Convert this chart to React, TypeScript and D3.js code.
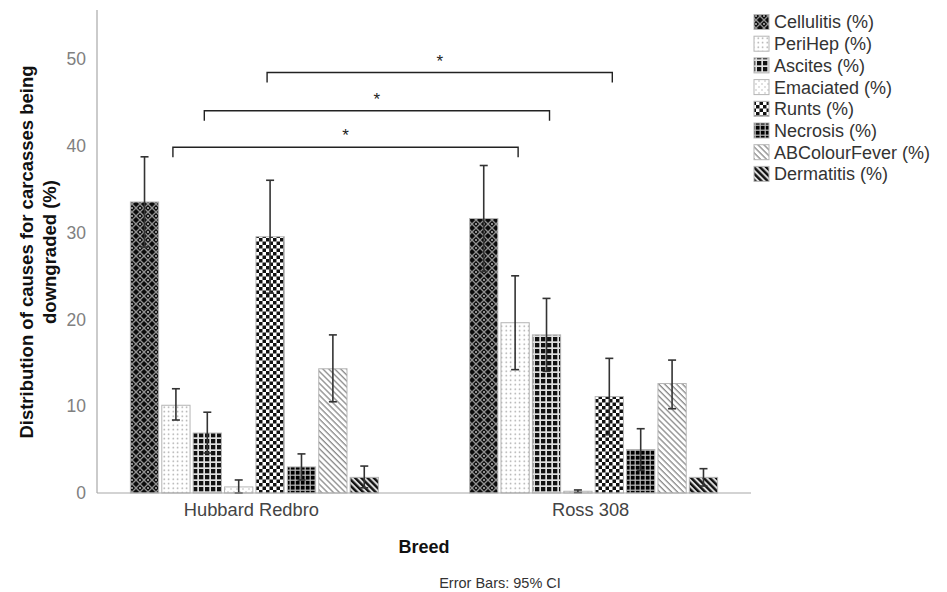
import React from 'react';
import * as d3 from 'd3';

// categories and values (mean % with 95% CI)
const breeds = ['Hubbard Redbro', 'Ross 308'];
const causes = [
  'Cellulitis (%)',
  'PeriHep (%)',
  'Ascites (%)',
  'Emaciated (%)',
  'Runts (%)',
  'Necrosis (%)',
  'ABColourFever (%)',
  'Dermatitis (%)',
];
const hubbardMeans = [33.5, 10.1, 6.9, 0.7, 29.5, 3.0, 14.3, 1.8];
const hubbardLower = [28.3, 8.4, 4.6, 0.0, 23.0, 1.5, 10.5, 0.6];
const hubbardUpper = [38.7, 12.0, 9.3, 1.5, 36.0, 4.5, 18.2, 3.1];
const rossMeans = [31.6, 19.6, 18.2, 0.2, 11.1, 5.0, 12.6, 1.8];
const rossLower = [25.5, 14.2, 14.0, 0.05, 6.7, 2.6, 9.7, 0.8];
const rossUpper = [37.7, 25.0, 22.4, 0.35, 15.5, 7.4, 15.3, 2.8];
const yTicks = [0, 10, 20, 30, 40, 50];
// significance brackets: same cause compared across breeds
const sigCauses = ['PeriHep (%)', 'Ascites (%)', 'Runts (%)'];
const sigLevels = [39.8, 44.0, 48.4];

const patternIds = ['pCell', 'pPeri', 'pAsc', 'pEma', 'pRunt', 'pNec', 'pAbc', 'pDerm'];

const FONT = '"Liberation Sans", Arial, sans-serif';

const App = () => {
  const width = 947;
  const height = 592;
  const axisLeft = 97;
  const axisRight = 751;

  const y = d3.scaleLinear().domain([0, 55.6]).range([493, 10]);
  const x0 = d3.scalePoint().domain(breeds).range([axisLeft, axisRight]).padding(0.464);
  const x1 = d3.scaleBand().domain(causes).range([-124, 124]).paddingInner(0.1);

  const rows = [
    { breed: breeds[0], means: hubbardMeans, lo: hubbardLower, hi: hubbardUpper },
    { breed: breeds[1], means: rossMeans, lo: rossLower, hi: rossUpper },
  ];

  const barCenter = (breed, cause) => x0(breed) + x1(cause) + x1.bandwidth() / 2;

  return (
    <svg width={width} height={height} style={{ display: 'block', position: 'absolute', left: 0, top: 0 }}>
      <defs>
        <pattern id="pCell" width="8" height="8" patternUnits="userSpaceOnUse">
          <rect width="8" height="8" fill="#0c0c0c" />
          <path d="M0,0 L8,8 M8,0 L0,8" stroke="#909090" strokeWidth="1.3" />
          <circle cx="4" cy="0" r="1" fill="#bbb" />
          <circle cx="4" cy="8" r="1" fill="#bbb" />
        </pattern>
        <pattern id="pPeri" width="4.5" height="4.5" patternUnits="userSpaceOnUse">
          <rect width="4.5" height="4.5" fill="#fff" />
          <circle cx="2.2" cy="2.2" r="0.75" fill="#999" />
        </pattern>
        <pattern id="pAsc" width="6" height="6" patternUnits="userSpaceOnUse">
          <rect width="6" height="6" fill="#e0e0e0" />
          <rect x="1" y="1" width="4.3" height="4.3" fill="#111" />
        </pattern>
        <pattern id="pEma" width="6" height="6" patternUnits="userSpaceOnUse">
          <rect width="6" height="6" fill="#fff" />
          <circle cx="0" cy="0" r="0.7" fill="#aaa" />
          <circle cx="3" cy="3" r="0.7" fill="#aaa" />
          <circle cx="6" cy="6" r="0.7" fill="#aaa" />
          <circle cx="6" cy="0" r="0.7" fill="#aaa" />
          <circle cx="0" cy="6" r="0.7" fill="#aaa" />
        </pattern>
        <pattern id="pRunt" width="7" height="7" patternUnits="userSpaceOnUse">
          <rect width="7" height="7" fill="#fff" />
          <rect x="0" y="0" width="3.5" height="3.5" fill="#111" />
          <rect x="3.5" y="3.5" width="3.5" height="3.5" fill="#111" />
        </pattern>
        <pattern id="pNec" width="5" height="5" patternUnits="userSpaceOnUse">
          <rect width="5" height="5" fill="#bbb" />
          <rect x="0.8" y="0.8" width="3.8" height="3.8" fill="#000" />
        </pattern>
        <pattern id="pAbc" width="4.2" height="4.2" patternUnits="userSpaceOnUse" patternTransform="rotate(-45)">
          <rect width="4.2" height="4.2" fill="#fff" />
          <line x1="1" y1="0" x2="1" y2="4.2" stroke="#888" strokeWidth="1.3" />
        </pattern>
        <pattern id="pDerm" width="4.4" height="4.4" patternUnits="userSpaceOnUse" patternTransform="rotate(-45)">
          <rect width="4.4" height="4.4" fill="#ddd" />
          <line x1="1.2" y1="0" x2="1.2" y2="4.4" stroke="#111" strokeWidth="2.4" />
        </pattern>
      </defs>

      <rect width={width} height={height} fill="#fff" />

      {/* y axis */}
      <line x1={axisLeft} x2={axisLeft} y1={y(55.6)} y2={y(0)} stroke="#a8a8a8" strokeWidth="1.2" />
      {yTicks.map(t => (
        <text key={t} x={86} y={y(t)} dy="0.36em" textAnchor="end" fontFamily={FONT} fontSize="17.5" fill="#808080">
          {t}
        </text>
      ))}

      {/* bars */}
      {rows.map(r =>
        causes.map((c, i) => (
          <rect
            key={r.breed + c}
            x={x0(r.breed) + x1(c)}
            y={y(r.means[i])}
            width={x1.bandwidth()}
            height={y(0) - y(r.means[i])}
            fill={`url(#${patternIds[i]})`}
            stroke="#b5b5b5"
            strokeWidth="1"
          />
        ))
      )}

      {/* error bars */}
      {rows.map(r =>
        causes.map((c, i) => {
          const cx = barCenter(r.breed, c);
          return (
            <g key={'e' + r.breed + c} stroke="#333" strokeWidth="1.6">
              <line x1={cx} x2={cx} y1={y(r.hi[i])} y2={y(r.lo[i])} />
              <line x1={cx - 4} x2={cx + 4} y1={y(r.hi[i])} y2={y(r.hi[i])} />
              <line x1={cx - 4} x2={cx + 4} y1={y(r.lo[i])} y2={y(r.lo[i])} />
            </g>
          );
        })
      )}

      {/* x axis */}
      <line x1={axisLeft} x2={axisRight} y1={y(0)} y2={y(0)} stroke="#a8a8a8" strokeWidth="1.2" />
      {breeds.map(b => (
        <text key={b} x={x0(b) - 3} y={516} textAnchor="middle" fontFamily={FONT} fontSize="18.3" fill="#444">
          {b}
        </text>
      ))}

      {/* significance brackets */}
      {sigCauses.map((c, i) => {
        const xa = barCenter(breeds[0], c) - 3;
        const xb = barCenter(breeds[1], c) + 3;
        const yy = y(sigLevels[i]);
        return (
          <g key={'s' + c}>
            <path d={`M${xa},${yy + 10} V${yy} H${xb} V${yy + 10}`} fill="none" stroke="#222" strokeWidth="1.4" />
            <text x={(xa + xb) / 2} y={yy - 6} textAnchor="middle" fontFamily={FONT} fontSize="17" fill="#222">
              *
            </text>
          </g>
        );
      })}

      {/* axis titles */}
      <text transform="translate(33,252) rotate(-90)" textAnchor="middle" fontFamily={FONT} fontSize="18.5" fontWeight="bold" fill="#111">
        Distribution of causes for carcasses being
      </text>
      <text transform="translate(56,252) rotate(-90)" textAnchor="middle" fontFamily={FONT} fontSize="18.5" fontWeight="bold" fill="#111">
        downgraded (%)
      </text>
      <text x={424} y={553} textAnchor="middle" fontFamily={FONT} fontSize="18" fontWeight="bold" fill="#111">
        Breed
      </text>
      <text x={500} y={588} textAnchor="middle" fontFamily={FONT} fontSize="14.5" fill="#333">
        Error Bars: 95% CI
      </text>

      {/* legend */}
      {causes.map((c, i) => {
        const ly = 22 + i * 21.7;
        return (
          <g key={'l' + c}>
            <rect x={754} y={ly - 7.5} width={15} height={15} fill={`url(#${patternIds[i]})`} stroke="#b5b5b5" strokeWidth="1" />
            <text x={774} y={ly} dy="0.36em" fontFamily={FONT} fontSize="18" fill="#333">
              {c}
            </text>
          </g>
        );
      })}
    </svg>
  );
};

export default App;
